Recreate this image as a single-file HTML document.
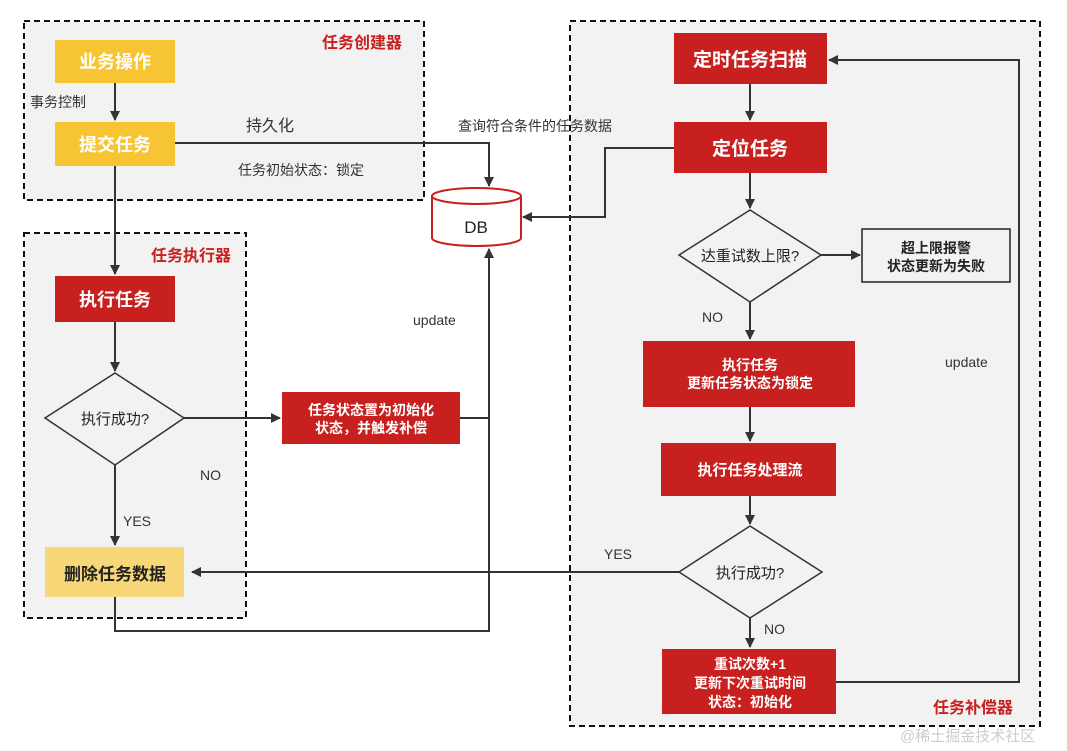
<!DOCTYPE html>
<html><head><meta charset="utf-8"><style>
html,body{margin:0;padding:0;background:#fff;}
svg{display:block;font-family:"Liberation Sans","Noto Sans CJK SC",sans-serif;}
</style></head><body>
<svg width="1067" height="751" viewBox="0 0 1067 751" xmlns="http://www.w3.org/2000/svg">
<defs>
<marker id="a" markerWidth="10" markerHeight="10" refX="9" refY="5" orient="auto" markerUnits="userSpaceOnUse">
<path d="M0,0 L10,5 L0,10 z" fill="#333"/></marker>
</defs>
<!-- containers -->
<rect x="24" y="21" width="400" height="179" fill="#f2f2f2" stroke="#111" stroke-width="2" stroke-dasharray="6,4"/>
<rect x="24" y="233" width="222" height="385" fill="#f2f2f2" stroke="#111" stroke-width="2" stroke-dasharray="6,4"/>
<rect x="570" y="21" width="470" height="705" fill="#f2f2f2" stroke="#111" stroke-width="2" stroke-dasharray="6,4"/>
<g fill="#c8201f" font-size="16" font-weight="bold">
<text x="322" y="48">任务创建器</text>
<text x="151" y="261">任务执行器</text>
<text x="933" y="713">任务补偿器</text>
</g>
<!-- connectors -->
<g stroke="#333" stroke-width="2" fill="none">
<line x1="115" y1="83" x2="115" y2="120" marker-end="url(#a)"/>
<polyline points="175,143 489,143 489,186" marker-end="url(#a)"/>
<line x1="115" y1="166" x2="115" y2="274" marker-end="url(#a)"/>
<line x1="115" y1="322" x2="115" y2="371" marker-end="url(#a)"/>
<line x1="184" y1="418" x2="280" y2="418" marker-end="url(#a)"/>
<line x1="115" y1="465" x2="115" y2="545" marker-end="url(#a)"/>
<polyline points="460,418 489,418"/>
<polyline points="115,597 115,631 489,631 489,249" marker-end="url(#a)"/>
<line x1="750" y1="84" x2="750" y2="120" marker-end="url(#a)"/>
<polyline points="674,148 605,148 605,217 523,217" marker-end="url(#a)"/>
<line x1="750" y1="173" x2="750" y2="208" marker-end="url(#a)"/>
<line x1="821" y1="255" x2="860" y2="255" marker-end="url(#a)"/>
<line x1="750" y1="302" x2="750" y2="339" marker-end="url(#a)"/>
<line x1="750" y1="407" x2="750" y2="441" marker-end="url(#a)"/>
<line x1="750" y1="496" x2="750" y2="524" marker-end="url(#a)"/>
<line x1="679" y1="572" x2="192" y2="572" marker-end="url(#a)"/>
<line x1="750" y1="618" x2="750" y2="647" marker-end="url(#a)"/>
<polyline points="836,682 1019,682 1019,60 829,60" marker-end="url(#a)"/>
</g>
<!-- DB -->
<g stroke="#c8201f" stroke-width="2" fill="#fff">
<path d="M432,196 L432,238 A44.5,8 0 0 0 521,238 L521,196"/>
<ellipse cx="476.5" cy="196" rx="44.5" ry="8"/>
</g>
<text x="476" y="233" font-size="17" fill="#222" text-anchor="middle">DB</text>
<!-- nodes -->
<rect x="55" y="40" width="120" height="43" fill="#f7c533"/>
<rect x="55" y="122" width="120" height="44" fill="#f7c533"/>
<rect x="55" y="276" width="120" height="46" fill="#c8201f"/>
<rect x="282" y="392" width="178" height="52" fill="#c8201f"/>
<rect x="45" y="547" width="139" height="50" fill="#f8d778"/>
<polygon points="115,373 184,418 115,465 45,418" fill="#f2f2f2" stroke="#333" stroke-width="1.5"/>
<rect x="674" y="33" width="153" height="51" fill="#c8201f"/>
<rect x="674" y="122" width="153" height="51" fill="#c8201f"/>
<polygon points="750,210 821,255 750,302 679,255" fill="#f2f2f2" stroke="#333" stroke-width="1.5"/>
<rect x="862" y="229" width="148" height="53" fill="#f2f2f2" stroke="#222" stroke-width="1.5"/>
<rect x="643" y="341" width="212" height="66" fill="#c8201f"/>
<rect x="661" y="443" width="175" height="53" fill="#c8201f"/>
<polygon points="750,526 822,572 750,618 679,572" fill="#f2f2f2" stroke="#333" stroke-width="1.5"/>
<rect x="662" y="649" width="174" height="65" fill="#c8201f"/>
<!-- node text -->
<g fill="#fff" font-weight="bold" text-anchor="middle">
<text x="115" y="68" font-size="18">业务操作</text>
<text x="115" y="151" font-size="18">提交任务</text>
<text x="115" y="306" font-size="18">执行任务</text>
<text x="371" y="415" font-size="14">任务状态置为初始化</text>
<text x="371" y="433" font-size="14">状态，并触发补偿</text>
<text x="750" y="66" font-size="19">定时任务扫描</text>
<text x="750" y="155" font-size="19">定位任务</text>
<text x="750" y="370" font-size="14">执行任务</text>
<text x="750" y="388" font-size="14">更新任务状态为锁定</text>
<text x="750" y="475" font-size="15">执行任务处理流</text>
<text x="750" y="669" font-size="14">重试次数+1</text>
<text x="750" y="688" font-size="14">更新下次重试时间</text>
<text x="750" y="707" font-size="14">状态：初始化</text>
</g>
<g fill="#222" text-anchor="middle">
<text x="115" y="580" font-size="17" font-weight="bold">删除任务数据</text>
<text x="115" y="424" font-size="15">执行成功?</text>
<text x="750" y="261" font-size="15">达重试数上限?</text>
<text x="750" y="578" font-size="15">执行成功?</text>
<text x="936" y="253" font-size="14" font-weight="bold">超上限报警</text>
<text x="936" y="271" font-size="14" font-weight="bold">状态更新为失败</text>
</g>
<!-- labels -->
<g fill="#333" font-size="14">
<text x="30" y="107">事务控制</text>
<text x="246" y="131" font-size="16">持久化</text>
<text x="238" y="175">任务初始状态：锁定</text>
<text x="458" y="131">查询符合条件的任务数据</text>
<text x="413" y="325">update</text>
<text x="945" y="367">update</text>
<text x="200" y="480">NO</text>
<text x="123" y="526">YES</text>
<text x="702" y="322">NO</text>
<text x="604" y="559">YES</text>
<text x="764" y="634">NO</text>
</g>
<text x="900" y="741" font-size="15" fill="#ccc">@稀土掘金技术社区</text>
</svg>
</body></html>
